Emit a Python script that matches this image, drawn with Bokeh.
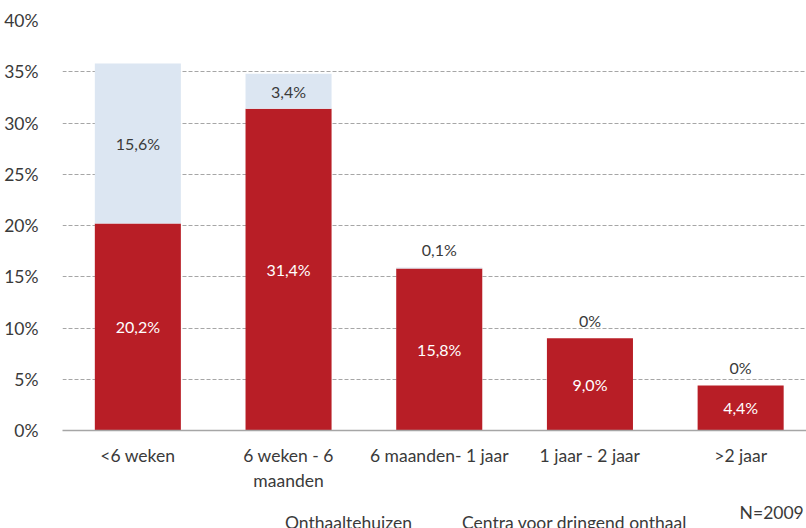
from bokeh.plotting import figure
from bokeh.layouts import column
from bokeh.models import Range1d, FixedTicker, Legend, LegendItem, Label, ColumnDataSource
from bokeh.embed import file_html
from bokeh.resources import INLINE

# ---- data ----
categories = ["<6 weken", "6 weken - 6\nmaanden", "6 maanden- 1 jaar", "1 jaar - 2 jaar", ">2 jaar"]
onthaaltehuizen = [20.2, 31.4, 15.8, 9.0, 4.4]
centra = [15.6, 3.4, 0.1, 0.0, 0.0]
red_labels = ["20,2%", "31,4%", "15,8%", "9,0%", "4,4%"]
blue_labels = ["15,6%", "3,4%", "0,1%", "0%", "0%"]
y_ticks = [0, 5, 10, 15, 20, 25, 30, 35, 40]
y_tick_labels = ["0%", "5%", "10%", "15%", "20%", "25%", "30%", "35%", "40%"]
series_names = ["Onthaaltehuizen", "Centra voor dringend onthaal"]
note = "N=2009"

RED = "#B81E26"
BLUE = "#DCE6F2"
TXT = "#3A3A3A"
FONT = "Lato"
AX = "17.5px"

xs = list(range(len(categories)))
src = ColumnDataSource(dict(x=xs, red=onthaaltehuizen, blue=centra))

p = figure(width=806, height=498, output_backend="svg", toolbar_location=None,
           x_range=Range1d(-0.5, 4.437), y_range=Range1d(0, 40),
           min_border_left=62, min_border_right=0, min_border_top=20, min_border_bottom=68)
p.outline_line_color = None

rs = p.vbar_stack(["red", "blue"], x="x", width=0.571, source=src,
                  color=[RED, BLUE], line_color=None)

red_src = ColumnDataSource(dict(x=xs, y=[v / 2 for v in onthaaltehuizen], t=red_labels))
p.text("x", "y", text="t", source=red_src, text_align="center", text_baseline="middle",
       text_color="white", text_font_size="16px", text_font={"value": FONT})

in_x, in_y, in_t, out_x, out_y, out_t = [], [], [], [], [], []
for i in xs:
    if centra[i] >= 1:
        in_x.append(i); in_y.append(onthaaltehuizen[i] + centra[i] / 2); in_t.append(blue_labels[i])
    else:
        out_x.append(i); out_y.append(onthaaltehuizen[i] + centra[i]); out_t.append(blue_labels[i])
p.text(x=in_x, y=in_y, text=in_t, text_align="center", text_baseline="middle",
       text_color=TXT, text_font_size="16px", text_font={"value": FONT})
p.text(x=out_x, y=out_y, text=out_t, text_align="center", text_baseline="middle", y_offset=-18,
       text_color=TXT, text_font_size="16px", text_font={"value": FONT})

p.yaxis.ticker = FixedTicker(ticks=y_ticks)
p.yaxis.major_label_overrides = {t: l for t, l in zip(y_ticks, y_tick_labels)}
p.yaxis.axis_line_color = None
p.yaxis.major_tick_line_color = None
p.yaxis.minor_tick_line_color = None
p.yaxis.major_label_standoff = 18
p.yaxis.major_label_text_font_size = AX
p.yaxis.major_label_text_color = TXT
p.yaxis.major_label_text_font = FONT

p.xaxis.ticker = FixedTicker(ticks=xs)
p.xaxis.major_label_overrides = {i: c for i, c in zip(xs, categories)}
p.xaxis.axis_line_color = "#A6A6A6"
p.xaxis.axis_line_width = 1.5
p.xaxis.major_tick_line_color = None
p.xaxis.minor_tick_line_color = None
p.xaxis.major_label_standoff = 8
p.xaxis.major_label_text_font_size = AX
p.xaxis.major_label_text_color = TXT
p.xaxis.major_label_text_font = FONT

p.xgrid.grid_line_color = None
p.ygrid.grid_line_color = "#A6A6A6"
p.ygrid.grid_line_dash = "4 2"
p.ygrid.ticker = FixedTicker(ticks=y_ticks)

# ---- legend strip below the chart ----
p2 = figure(width=806, height=40, output_backend="svg", toolbar_location=None,
            x_range=Range1d(0, 806), y_range=Range1d(0, 40), min_border=0,
            x_axis_type=None, y_axis_type=None)
p2.outline_line_color = None
p2.xgrid.grid_line_color = None
p2.ygrid.grid_line_color = None
lr = p2.vbar(x=[], top=[], width=1, color=RED, line_color=None)
lb = p2.vbar(x=[], top=[], width=1, color=BLUE, line_color=None)

legend = Legend(items=[LegendItem(label=series_names[0], renderers=[lr]),
                       LegendItem(label=series_names[1], renderers=[lb])],
                orientation="horizontal", location=(207, 5),
                border_line_color=None, background_fill_alpha=0,
                glyph_width=11, glyph_height=11, label_standoff=5, spacing=34,
                padding=0, margin=0,
                label_text_font_size=AX, label_text_color=TXT, label_text_font=FONT)
p2.add_layout(legend)

p2.add_layout(Label(x=803, y=26, text=note, text_align="right", text_baseline="middle",
                    text_font_size=AX, text_color=TXT, text_font=FONT))

open("out.html", "w").write(file_html(column(p, p2), INLINE))
